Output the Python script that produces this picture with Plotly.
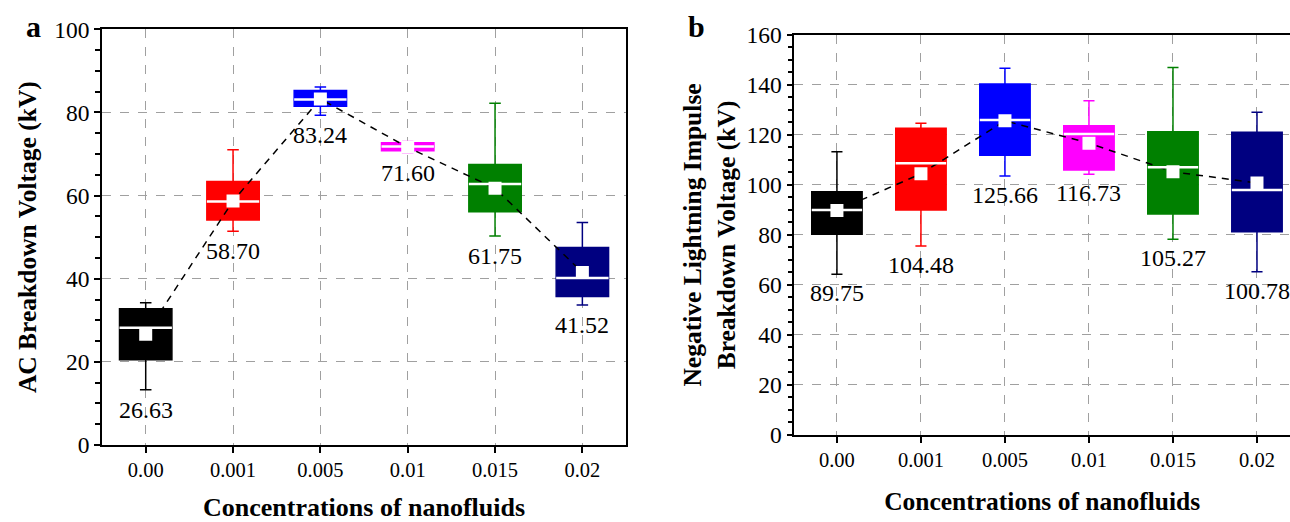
import plotly.graph_objects as go

categories = ["0.00", "0.001", "0.005", "0.01", "0.015", "0.02"]
colors = ["#000000", "#FF0000", "#0000FF", "#FF00FF", "#008000", "#000080"]

# Panel a: AC breakdown voltage (kV)
a_q1 = [20.5, 54.1, 81.5, 70.8, 56.1, 35.7]
a_median = [28.2, 58.6, 83.1, 71.8, 62.8, 40.2]
a_q3 = [32.8, 63.4, 85.3, 72.7, 67.5, 47.5]
a_low = [13.3, 51.4, 79.3, 70.2, 50.3, 33.7]
a_high = [34.2, 71.0, 86.1, 73.0, 82.2, 53.5]
a_mean = [26.63, 58.70, 83.24, 71.60, 61.75, 41.52]

# Panel b: negative lightning impulse breakdown voltage (kV)
b_q1 = [80.3, 90.0, 111.9, 106.0, 88.4, 81.3]
b_median = [90.0, 108.7, 126.0, 120.4, 107.1, 98.0]
b_q3 = [97.3, 122.7, 140.4, 123.7, 121.3, 121.1]
b_low = [64.3, 75.6, 103.6, 104.3, 78.3, 65.3]
b_high = [113.3, 124.7, 146.7, 133.7, 147.0, 129.1]
b_mean = [89.75, 104.48, 125.66, 116.73, 105.27, 100.78]

FONT = "Liberation Serif"
BOXW = 0.6

fig = go.Figure()
shapes = []
annotations = []

def add_panel(q1, med, q3, lo, hi, mean, xa, ya, label_shift):
    xs = list(range(len(categories)))
    for i in xs:
        fig.add_trace(go.Box(
            x=[i], q1=[q1[i]], median=[med[i]], q3=[q3[i]],
            lowerfence=[lo[i]], upperfence=[hi[i]],
            width=BOXW, whiskerwidth=0.22,
            fillcolor=colors[i], line=dict(color=colors[i], width=1.5),
            boxpoints=False, showlegend=False, hoverinfo="skip",
            xaxis=xa, yaxis=ya,
        ))
        shapes.append(dict(type="line", xref=xa, yref=ya, layer="above",
                           x0=i - BOXW / 2, x1=i + BOXW / 2, y0=med[i], y1=med[i],
                           line=dict(color="white", width=2.5)))
        annotations.append(dict(xref=xa, yref=ya, x=i, y=lo[i], text=f"{mean[i]:.2f}",
                                showarrow=False, yanchor="top", yshift=label_shift,
                                font=dict(family=FONT, size=24, color="black")))
    fig.add_trace(go.Scatter(
        x=xs, y=mean, mode="lines+markers",
        line=dict(color="black", width=1.5, dash="7px,6px"),
        marker=dict(symbol="square", size=13, color="white", line=dict(width=0)),
        showlegend=False, hoverinfo="skip", xaxis=xa, yaxis=ya,
    ))

add_panel(a_q1, a_median, a_q3, a_low, a_high, a_mean, "x", "y", -5)
add_panel(b_q1, b_median, b_q3, b_low, b_high, b_mean, "x2", "y2", -4)

tickfont = dict(family=FONT, size=23.5, color="black")

def tfont(size):
    return dict(family=FONT, size=size, color="black", weight="bold")

common_x = dict(tickmode="array", tickvals=list(range(6)), ticktext=categories,
                showline=True, linecolor="black", linewidth=1.5,
                ticks="outside", ticklen=6, tickwidth=1.5, tickcolor="black",
                showgrid=True, gridcolor="#a0a0a0", griddash="dash", gridwidth=1,
                zeroline=False, tickfont=dict(family=FONT, size=20.5, color="black"),
                automargin=False)
common_y = dict(showline=True, linecolor="black", linewidth=1.5,
                ticks="outside", ticklen=6, tickwidth=1.5, tickcolor="black",
                showgrid=True, gridcolor="#a0a0a0", griddash="dash", gridwidth=1,
                zeroline=False, tickfont=tickfont, automargin=False,
                minor=dict(ticks="outside", ticklen=5, tickwidth=1.5, tickcolor="black",
                           showgrid=False))

fig.update_layout(
    width=1290, height=522,
    margin=dict(l=0, r=0, t=0, b=0),
    paper_bgcolor="white", plot_bgcolor="white",
    boxmode="overlay",
    showlegend=False,
    xaxis=dict(common_x, domain=[0.0791, 0.4853], range=[-0.5, 5.5], anchor="y",
               mirror=True,
               title=dict(text="Concentrations of nanofluids", font=tfont(26), standoff=22)),
    yaxis=dict(common_y, domain=[0.1475, 0.9439], range=[0, 100], dtick=20, anchor="x",
               mirror=True,
               title=dict(text="AC Breakdown Voltage (kV)", font=tfont(25.5), standoff=10)),
    xaxis2=dict(common_x, domain=[0.6157, 1.0], range=[-0.508, 5.393], anchor="y2",
                mirror=True,
                title=dict(text="Concentrations of nanofluids", font=tfont(25.5), standoff=22)),
    yaxis2=dict(common_y, domain=[0.1667, 0.933], range=[0, 160], dtick=20, anchor="x2",
                title=dict(text="Negative Lightning Impulse<br>Breakdown Voltage (kV)",
                           font=tfont(25.5), standoff=4)),
    # inward ticks on the top and right frame edges
    xaxis3=dict(overlaying="x", side="top", range=[-0.5, 5.5], anchor="y",
                tickmode="array", tickvals=list(range(6)), ticks="inside", ticklen=6,
                tickwidth=1.5, tickcolor="black", showticklabels=False, showgrid=False,
                showline=False, zeroline=False),
    xaxis4=dict(overlaying="x2", side="top", range=[-0.508, 5.393], anchor="y2",
                tickmode="array", tickvals=list(range(6)), ticks="inside", ticklen=6,
                tickwidth=1.5, tickcolor="black", showticklabels=False, showgrid=False,
                showline=False, zeroline=False),
    yaxis3=dict(overlaying="y", side="right", range=[0, 100], dtick=20, anchor="x",
                ticks="inside", ticklen=6, tickwidth=1.5, tickcolor="black",
                showticklabels=False, showgrid=False, showline=False, zeroline=False,
                minor=dict(ticks="inside", ticklen=5, tickwidth=1.5, tickcolor="black")),
    shapes=shapes,
)

annotations.append(dict(xref="paper", yref="paper", x=33 / 1290, y=1 - 27 / 522,
                        text="<b>a</b>", showarrow=False, xanchor="center", yanchor="middle",
                        font=dict(family=FONT, size=30, color="black")))
annotations.append(dict(xref="paper", yref="paper", x=696 / 1290, y=1 - 27 / 522,
                        text="<b>b</b>", showarrow=False, xanchor="center", yanchor="middle",
                        font=dict(family=FONT, size=30, color="black")))
fig.update_layout(annotations=annotations)

fig.write_html("out.html",
               config={"displayModeBar": False},
               post_script="document.body.style.margin='0px';document.body.style.overflow='hidden';")
